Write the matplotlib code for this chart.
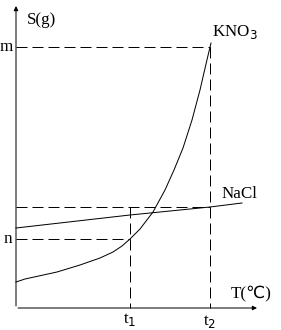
import matplotlib
matplotlib.use("Agg")
import matplotlib.pyplot as plt

# Data (temperature units, solubility units)
kno3_T = [0, 9, 41, 64, 84, 97, 106, 114, 124, 137, 149, 158, 167, 176, 184, 190, 195]
kno3_S = [26, 29, 36, 43, 50, 56, 62, 69, 79, 96, 118, 138, 160, 188, 218, 244, 265]
nacl_T = [0, 114, 194, 226]
nacl_S = [80, 93, 101, 105]
t1, t2 = 114, 194
n_val, m_val = 69, 261
nacl_t2 = 101
tick_labels_x = ["t$_1$", "t$_2$"]
tick_labels_y = ["n", "m"]

DPI = 72
fig = plt.figure(figsize=(281 / DPI, 330 / DPI), dpi=DPI)
ax = fig.add_axes([0, 0, 1, 1])
ax.set_xlim(-16, 265)
ax.set_ylim(-22, 308)
ax.axis("off")

plt.rcParams["font.family"] = ["Liberation Serif", "DejaVu Serif"]
fs = 17

# axes with arrows
ax.annotate("", xy=(0, 304), xytext=(0, 0),
            arrowprops=dict(arrowstyle="-|>", lw=1, color="black", mutation_scale=9))
ax.annotate("", xy=(243, 0), xytext=(0, 0),
            arrowprops=dict(arrowstyle="-|>", lw=1, color="black", mutation_scale=9))

dash = (0, (11, 5))
# dashed guide lines
ax.plot([0, t2], [m_val, m_val], color="black", lw=1, linestyle=dash)
ax.plot([t2, t2], [m_val, 0], color="black", lw=1, linestyle=dash)
ax.plot([0, t2], [nacl_t2, nacl_t2], color="black", lw=1, linestyle=dash)
ax.plot([0, t1], [n_val, n_val], color="black", lw=1, linestyle=dash)
ax.plot([t1, t1], [nacl_t2, 0], color="black", lw=1, linestyle=dash)

# curves
ax.plot(kno3_T, kno3_S, color="black", lw=1)
ax.plot(nacl_T, nacl_S, color="black", lw=1)

# labels
ax.text(11, 288, "S(g)", fontsize=fs, ha="left", va="center")
ax.text(-3, m_val, tick_labels_y[1], fontsize=fs, ha="right", va="center")
ax.text(-4, n_val, tick_labels_y[0], fontsize=fs, ha="right", va="center")
ax.text(196, 276, "KNO$_3$", fontsize=fs, ha="left", va="center")
ax.text(206, 114, "NaCl", fontsize=fs, ha="left", va="center")
ax.text(215, 14, "T(℃)", fontsize=fs, ha="left", va="center",
        family=["Liberation Serif", "DejaVu Sans"])
ax.text(t1, -12, tick_labels_x[0], fontsize=fs, ha="center", va="center")
ax.text(t2, -14, tick_labels_x[1], fontsize=fs, ha="center", va="center")

fig.savefig("out.png", dpi=DPI, facecolor="white")
